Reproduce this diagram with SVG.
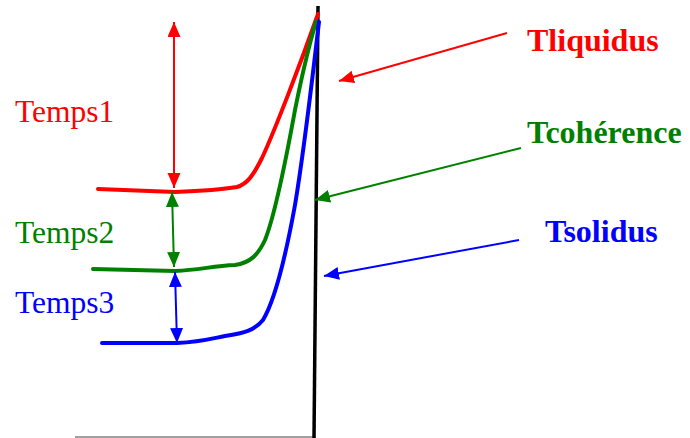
<svg xmlns="http://www.w3.org/2000/svg" width="690" height="438" viewBox="0 0 690 438">
<style>
.curve{fill:none;stroke-width:4;stroke-linecap:round;stroke-linejoin:round}
.arr{fill:none;stroke-width:2}
.lbl{font-family:"Liberation Serif","Times New Roman",serif;font-size:31.5px}
.big{font-family:"Liberation Serif","Times New Roman",serif;font-size:32px;font-weight:bold}
</style>
<defs>
<marker id="mr" markerUnits="userSpaceOnUse" markerWidth="16" markerHeight="14" refX="15" refY="6.5" orient="auto-start-reverse"><path d="M0,0 L15,6.5 L0,13 z" fill="#FF0000"/></marker>
<marker id="mg" markerUnits="userSpaceOnUse" markerWidth="16" markerHeight="14" refX="15" refY="6.5" orient="auto-start-reverse"><path d="M0,0 L15,6.5 L0,13 z" fill="#008000"/></marker>
<marker id="mb" markerUnits="userSpaceOnUse" markerWidth="16" markerHeight="14" refX="15" refY="6.5" orient="auto-start-reverse"><path d="M0,0 L15,6.5 L0,13 z" fill="#0000FF"/></marker>
</defs>
<g id="axes">
<line x1="75" y1="437" x2="316" y2="437" stroke="#808080" stroke-width="1.5"/>
<line x1="318" y1="6" x2="314" y2="438" stroke="#000" stroke-width="3.5"/>
</g>
<g id="curve-liquidus"><path class="curve" stroke="#FF0000" d="M98,189 L175,192 C200,191 225,189 237,187 C247,184 253,176 262,158 C275,130 300,65 318,14"/></g>
<g id="curve-coherence"><path class="curve" stroke="#008000" d="M93,269 L175,271 C200,270 212,266 235,265 C250,263 258,255 265,240 C275,215 285,165 295,110 C303,70 310,42 316,22"/></g>
<g id="curve-solidus"><path class="curve" stroke="#0000FF" d="M102,343 L177,343 C200,342 210,339 225,336 C245,333 255,330 263,320 C275,300 285,260 295,205 C305,145 312,80 319,22"/></g>
<g id="connectors">
<line class="arr" stroke="#FF0000" x1="174" y1="22" x2="174" y2="188" marker-start="url(#mr)" marker-end="url(#mr)"/>
<line class="arr" stroke="#008000" x1="172" y1="192" x2="174" y2="267" marker-start="url(#mg)" marker-end="url(#mg)"/>
<line class="arr" stroke="#0000FF" x1="175" y1="272" x2="177" y2="343" marker-start="url(#mb)" marker-end="url(#mb)"/>
<line class="arr" stroke="#FF0000" x1="507" y1="33" x2="339" y2="81" marker-end="url(#mr)"/>
<line class="arr" stroke="#008000" x1="521" y1="148" x2="315" y2="200" marker-end="url(#mg)"/>
<line class="arr" stroke="#0000FF" x1="519" y1="240" x2="324" y2="276" marker-end="url(#mb)"/>
</g>
<g id="label-temps1"><text class="lbl" x="15" y="122" fill="#FF0000">Temps1</text></g>
<g id="label-temps2"><text class="lbl" x="15" y="243" fill="#008000">Temps2</text></g>
<g id="label-temps3"><text class="lbl" x="15" y="313" fill="#0000FF">Temps3</text></g>
<g id="label-tliquidus"><text class="big" x="527" y="51" fill="#FF0000">Tliquidus</text></g>
<g id="label-tcoherence"><text class="big" x="527" y="143" fill="#008000">Tcohérence</text></g>
<g id="label-tsolidus"><text class="big" x="545" y="242" fill="#0000FF">Tsolidus</text></g>
</svg>
